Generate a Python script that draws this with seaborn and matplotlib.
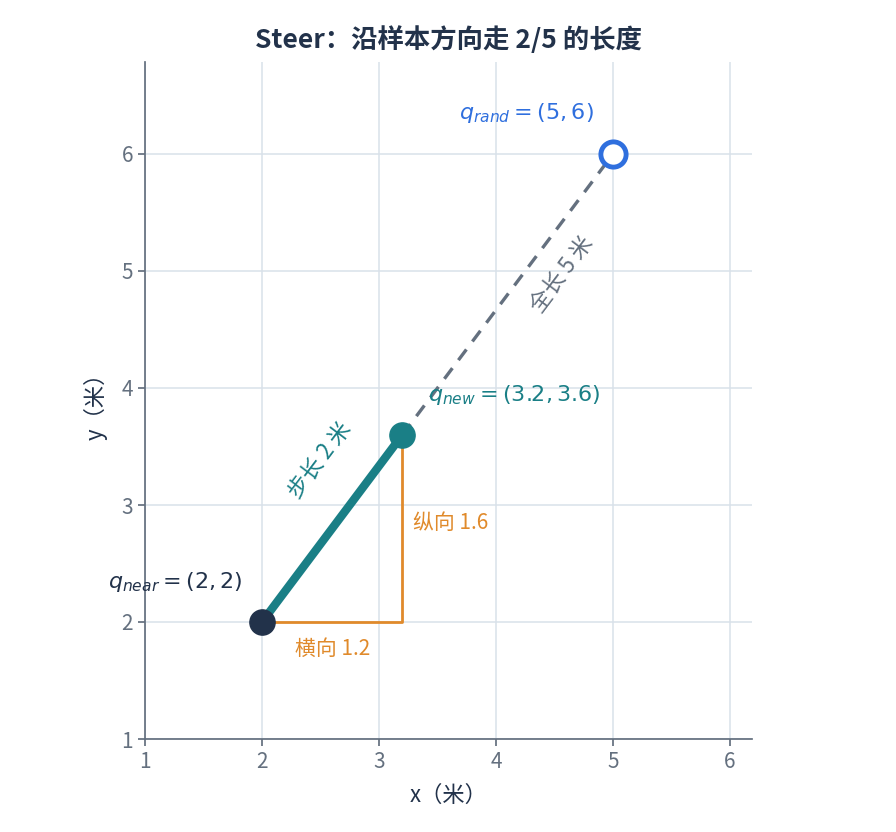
import matplotlib
matplotlib.use("Agg")
import matplotlib.pyplot as plt
import seaborn as sns
import numpy as np

sns.set_theme(style="white")
plt.rcParams['font.family'] = ['Noto Sans CJK SC', 'DejaVu Sans']
plt.rcParams['mathtext.fontset'] = 'dejavusans'

q_near = (2, 2)
q_rand = (5, 6)
q_new = (3.2, 3.6)
ticks = [1, 2, 3, 4, 5, 6]

TEAL = "#1a7f86"; BLUE = "#2f6fde"; DARK = "#22324a"; ORANGE = "#e08a2b"; GRAY = "#64707f"

fig = plt.figure(figsize=(8.96, 8.32), dpi=100)
ax = fig.add_axes([145/896, 1-739/832, (752-145)/896, (739-62)/832])

sns.lineplot(x=[q_new[0], q_rand[0]], y=[q_new[1], q_rand[1]], ax=ax, color=GRAY, lw=2.4, linestyle=(0, (4, 3)))
sns.lineplot(x=[q_near[0], q_new[0]], y=[q_near[1], q_new[1]], ax=ax, color=TEAL, lw=6)
ax.plot([q_near[0], q_new[0], q_new[0]], [q_near[1], q_near[1], q_new[1]], color=ORANGE, lw=2, zorder=2)
ax.scatter([q_near[0]], [q_near[1]], s=330, color=DARK, zorder=5)
ax.scatter([q_new[0]], [q_new[1]], s=330, color=TEAL, zorder=5)
ax.scatter([q_rand[0]], [q_rand[1]], s=330, facecolor="white", edgecolor=BLUE, linewidth=3.5, zorder=5)

ax.text(4.26, 6.35, r"$q_{rand} = (5, 6)$", color=BLUE, fontsize=16, ha="center", va="center")
ax.text(4.16, 3.94, r"$q_{new} = (3.2, 3.6)$", color=TEAL, fontsize=16, ha="center", va="center")
ax.text(1.26, 2.34, r"$q_{near} = (2, 2)$", color=DARK, fontsize=16, ha="center", va="center")
ax.text(2.6, 1.77, "横向 1.2", color=ORANGE, fontsize=15, ha="center", va="center")
ax.text(3.29, 2.85, "纵向 1.6", color=ORANGE, fontsize=15, ha="left", va="center")
ax.text(2.5, 3.38, "步长 2 米", color=TEAL, fontsize=16, ha="center", va="center", rotation=53)
ax.text(4.56, 4.97, "全长 5 米", color=GRAY, fontsize=16, ha="center", va="center", rotation=53)

ax.set_xlim(1, 1 + (752-145)/117)
ax.set_ylim(1, 1 + (739-62)/117)
ax.set_xticks(ticks); ax.set_yticks(ticks)
ax.tick_params(colors=GRAY, labelsize=15, length=5, direction="out", left=True, bottom=True)
ax.grid(True, color="#d8e1ea", lw=1.1)
sns.despine(ax=ax)
for s in ["left", "bottom"]:
    ax.spines[s].set_color(GRAY)
ax.set_xlabel("x（米）", fontsize=16, color=DARK, labelpad=8)
ax.set_ylabel("y（米）", fontsize=16, color=DARK, labelpad=10)
ax.set_title("Steer：沿样本方向走 2/5 的长度", fontsize=19, fontweight="bold", color=DARK, pad=10)
fig.savefig("out.png", dpi=100)
